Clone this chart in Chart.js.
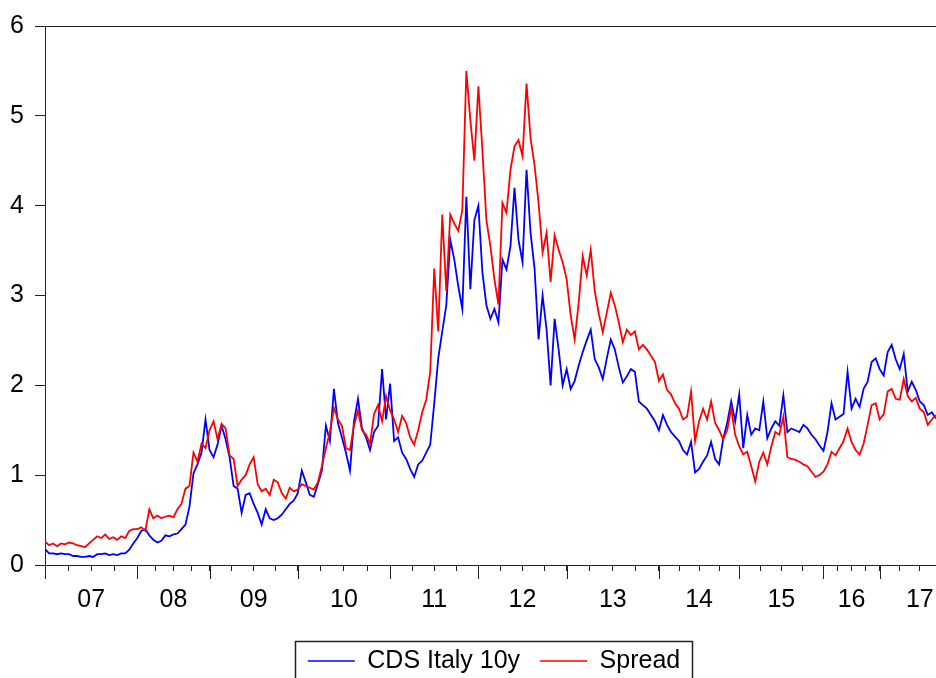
<!DOCTYPE html>
<html>
<head>
<meta charset="utf-8">
<script src="https://cdn.jsdelivr.net/npm/chart.js@4.4.0/dist/chart.umd.min.js"></script>
<style>
  html, body { margin: 0; padding: 0; background: #fff; overflow: hidden; }
  #wrap { width: 936px; height: 678px; overflow: hidden; }
</style>
</head>
<body>
<div id="wrap"><canvas id="chart" width="988" height="700"></canvas></div>
<script>
// ====== DATA (one array per year) ======
const yearLabels = ["07", "08", "09", "10", "11", "12", "13", "14", "15", "16", "17"];

const cds07 = [0.18,0.13,0.13,0.12,0.13,0.12,0.12,0.10,0.10,0.09,0.09,0.10,0.09,0.12,0.12,0.13,0.11,0.12,0.11,0.13,0.13,0.17,0.24];
const cds08 = [0.30,0.38,0.40,0.33,0.28,0.25,0.27,0.33,0.32,0.34,0.35,0.40,0.45,0.65,1.02,1.12,1.25,1.62];
const cds09 = [1.28,1.20,1.34,1.55,1.40,1.20,0.88,0.85,0.58,0.78,0.80,0.68,0.58,0.45,0.62,0.52,0.50,0.52,0.56,0.62,0.68,0.72];
const cds10 = [0.80,1.05,0.92,0.78,0.76,0.90,1.05,1.55,1.38,1.96,1.58,1.42,1.25,1.05,1.60,1.85,1.52,1.42,1.28,1.48,1.55,2.18,1.62];
const cds11 = [2.02,1.38,1.42,1.25,1.18,1.07,0.98,1.12,1.16,1.25,1.34,1.80,2.30,2.60,2.89,3.62,3.40,3.10,2.85,4.10,3.07,3.84];
const cds12 = [4.00,3.26,2.89,2.74,2.85,2.70,3.40,3.29,3.55,4.20,3.62,3.37,4.40,3.70,3.30,2.51,3.00,2.62,2.00,2.74,2.40,2.00];
const cds13 = [2.18,1.96,2.05,2.22,2.37,2.50,2.62,2.29,2.20,2.07,2.30,2.51,2.40,2.20,2.03,2.10,2.18,2.15,1.82,1.78,1.74,1.67,1.60];
const cds14 = [1.50,1.67,1.56,1.48,1.43,1.38,1.28,1.23,1.37,1.03,1.07,1.15,1.22,1.37,1.18,1.12,1.40,1.58,1.82,1.60];
const cds15 = [1.90,1.30,1.67,1.45,1.52,1.50,1.82,1.41,1.52,1.60,1.55,1.89,1.48,1.52,1.50,1.48,1.56,1.52,1.45,1.40,1.33];
const cds16 = [1.27,1.48,1.80,1.62,1.65,1.68,2.15,1.74,1.85,1.76,1.96,2.04,2.26,2.30];
const cds17 = [2.18,2.11,2.37,2.45,2.29,2.18,2.35,1.93,2.04,1.95,1.82,1.78,1.67,1.70,1.63];

const spr07 = [0.26,0.22,0.24,0.21,0.24,0.23,0.25,0.24,0.22,0.21,0.20,0.24,0.28,0.32,0.30,0.34,0.29,0.31,0.28,0.32,0.30,0.38,0.40];
const spr08 = [0.40,0.42,0.38,0.62,0.52,0.55,0.52,0.54,0.55,0.53,0.62,0.68,0.85,0.88,1.25,1.15,1.35,1.30];
const spr09 = [1.50,1.60,1.40,1.57,1.52,1.22,1.18,0.88,0.95,1.00,1.12,1.20,0.90,0.82,0.85,0.78,0.95,0.92,0.80,0.74,0.86,0.82];
const spr10 = [0.84,0.90,0.88,0.86,0.84,0.92,1.10,1.30,1.48,1.75,1.62,1.55,1.30,1.28,1.55,1.72,1.50,1.45,1.35,1.68,1.78,1.60,1.88];
const spr11 = [1.72,1.62,1.48,1.66,1.58,1.42,1.34,1.50,1.70,1.84,2.15,3.30,2.60,3.90,3.05,3.90,3.80,3.72,3.95,5.50,4.95,4.50];
const spr12 = [5.33,4.62,3.84,3.55,3.18,2.90,4.03,3.92,4.40,4.66,4.73,4.55,5.36,4.75,4.45,4.03,3.48,3.70,3.15,3.67,3.51,3.37];
const spr13 = [3.18,2.78,2.51,2.92,3.44,3.22,3.51,3.05,2.80,2.59,2.81,3.03,2.89,2.70,2.48,2.62,2.56,2.60,2.40,2.45,2.40,2.33,2.26];
const spr14 = [2.05,2.12,1.95,1.90,1.80,1.74,1.62,1.65,1.93,1.38,1.60,1.74,1.62,1.82,1.58,1.50,1.40,1.50,1.74,1.45];
const spr15 = [1.32,1.23,1.26,1.10,0.93,1.15,1.25,1.12,1.32,1.48,1.45,1.65,1.20,1.18,1.17,1.15,1.12,1.10,1.04,0.98,1.00];
const spr16 = [1.04,1.12,1.26,1.22,1.30,1.38,1.52,1.37,1.28,1.23,1.35,1.56,1.78,1.80];
const spr17 = [1.62,1.68,1.93,1.96,1.85,1.84,2.07,1.88,1.82,1.86,1.74,1.70,1.56,1.62,1.67];

const yTicks = [0, 1, 2, 3, 4, 5, 6];

// ====== MONTAGEM ======
const cdsByYear = [cds07, cds08, cds09, cds10, cds11, cds12, cds13, cds14, cds15, cds16, cds17];
const sprByYear = [spr07, spr08, spr09, spr10, spr11, spr12, spr13, spr14, spr15, spr16, spr17];
const partialYearSpan = 20; // last year is not complete in the picture

const yearStarts = [];
let nObs = 0;
cdsByYear.forEach(a => { yearStarts.push(nObs); nObs += a.length; });

// ticks: year start, quarters, label on mid-year
const xTicks = [];
cdsByYear.forEach((a, k) => {
  const s = yearStarts[k];
  const span = k === cdsByYear.length - 1 ? partialYearSpan : a.length;
  xTicks.push({ value: s, label: "" });
  xTicks.push({ value: s + span / 4, label: "" });
  xTicks.push({ value: s + span / 2, label: yearLabels[k] });
  xTicks.push({ value: s + span * 3 / 4, label: "" });
});

const toPoints = arr => [].concat(...arr).map((v, i) => ({ x: i, y: v }));

const FONT = '"Liberation Sans", Arial, sans-serif';
const AXIS = "#222";

// major ticks + legend frame
const extras = {
  id: "extras",
  afterDraw(chart) {
    const ctx = chart.ctx;
    const xs = chart.scales.x;
    ctx.save();
    ctx.strokeStyle = AXIS;
    ctx.lineWidth = 1;
    ctx.beginPath();
    yearStarts.forEach(s => {
      const px = Math.round(xs.getPixelForValue(s)) + 0.5;
      ctx.moveTo(px, xs.top);
      ctx.lineTo(px, xs.top + 14);
    });
    ctx.stroke();

    const hb = chart.legend.legendHitBoxes;
    if (hb && hb.length) {
      const last = hb[hb.length - 1];
      const left = Math.round(hb[0].left - 13) + 0.5;
      const right = Math.round(last.left + last.width + 12) + 0.5;
      const top = Math.round(hb[0].top - 8) + 0.5;
      ctx.lineWidth = 1.5;
      ctx.strokeRect(left, top, right - left, 120);
    }
    ctx.restore();
  }
};

new Chart(document.getElementById("chart"), {
  type: "line",
  data: {
    datasets: [
      {
        label: "CDS Italy 10y",
        data: toPoints(cdsByYear),
        borderColor: "#0000ff",
        backgroundColor: "#0000ff",
        borderWidth: 1.8,
        pointRadius: 0,
        pointBorderWidth: 1.5,
        order: 1
      },
      {
        label: "Spread",
        data: toPoints(sprByYear),
        borderColor: "#ff0000",
        backgroundColor: "#ff0000",
        borderWidth: 1.8,
        pointRadius: 0,
        pointBorderWidth: 1.5,
        order: 0
      }
    ]
  },
  options: {
    responsive: false,
    animation: false,
    devicePixelRatio: 1,
    layout: { padding: { top: 0, left: 0, right: 0, bottom: 16.5 } },
    plugins: {
      tooltip: { enabled: false },
      legend: {
        position: "bottom",
        labels: {
          usePointStyle: true,
          pointStyle: "line",
          pointStyleWidth: 47,
          padding: 20,
          color: "#000",
          font: { family: FONT, size: 25 },
          sort: (a, b) => a.datasetIndex - b.datasetIndex
        }
      }
    },
    scales: {
      x: {
        type: "linear",
        position: "bottom",
        min: 0,
        max: 235,
        afterBuildTicks: scale => { scale.ticks = xTicks.map(t => ({ value: t.value })); },
        afterFit: scale => { scale.height = 63.5; },
        ticks: {
          autoSkip: false,
          maxRotation: 0,
          padding: 14,
          color: "#000",
          font: { family: FONT, size: 25 },
          callback: (value, index) => xTicks[index] ? xTicks[index].label : ""
        },
        grid: { drawOnChartArea: false, tickLength: 6, tickColor: AXIS, tickWidth: 1 },
        border: { display: true, color: AXIS, width: 1 }
      },
      xTop: {
        type: "linear",
        position: "top",
        afterFit: scale => { scale.height = 20; },
        ticks: { display: false },
        grid: { drawOnChartArea: false, drawTicks: false },
        border: { display: true, color: AXIS, width: 1 }
      },
      y: {
        min: 0,
        max: 6,
        afterBuildTicks: scale => { scale.ticks = yTicks.map(v => ({ value: v })); },
        afterFit: scale => { scale.width = 45; },
        ticks: {
          padding: 11,
          color: "#000",
          font: { family: FONT, size: 25 }
        },
        grid: { drawOnChartArea: false, tickLength: 10, tickColor: AXIS, tickWidth: 1 },
        border: { display: true, color: AXIS, width: 1 }
      }
    }
  },
  plugins: [extras]
});
</script>
</body>
</html>
